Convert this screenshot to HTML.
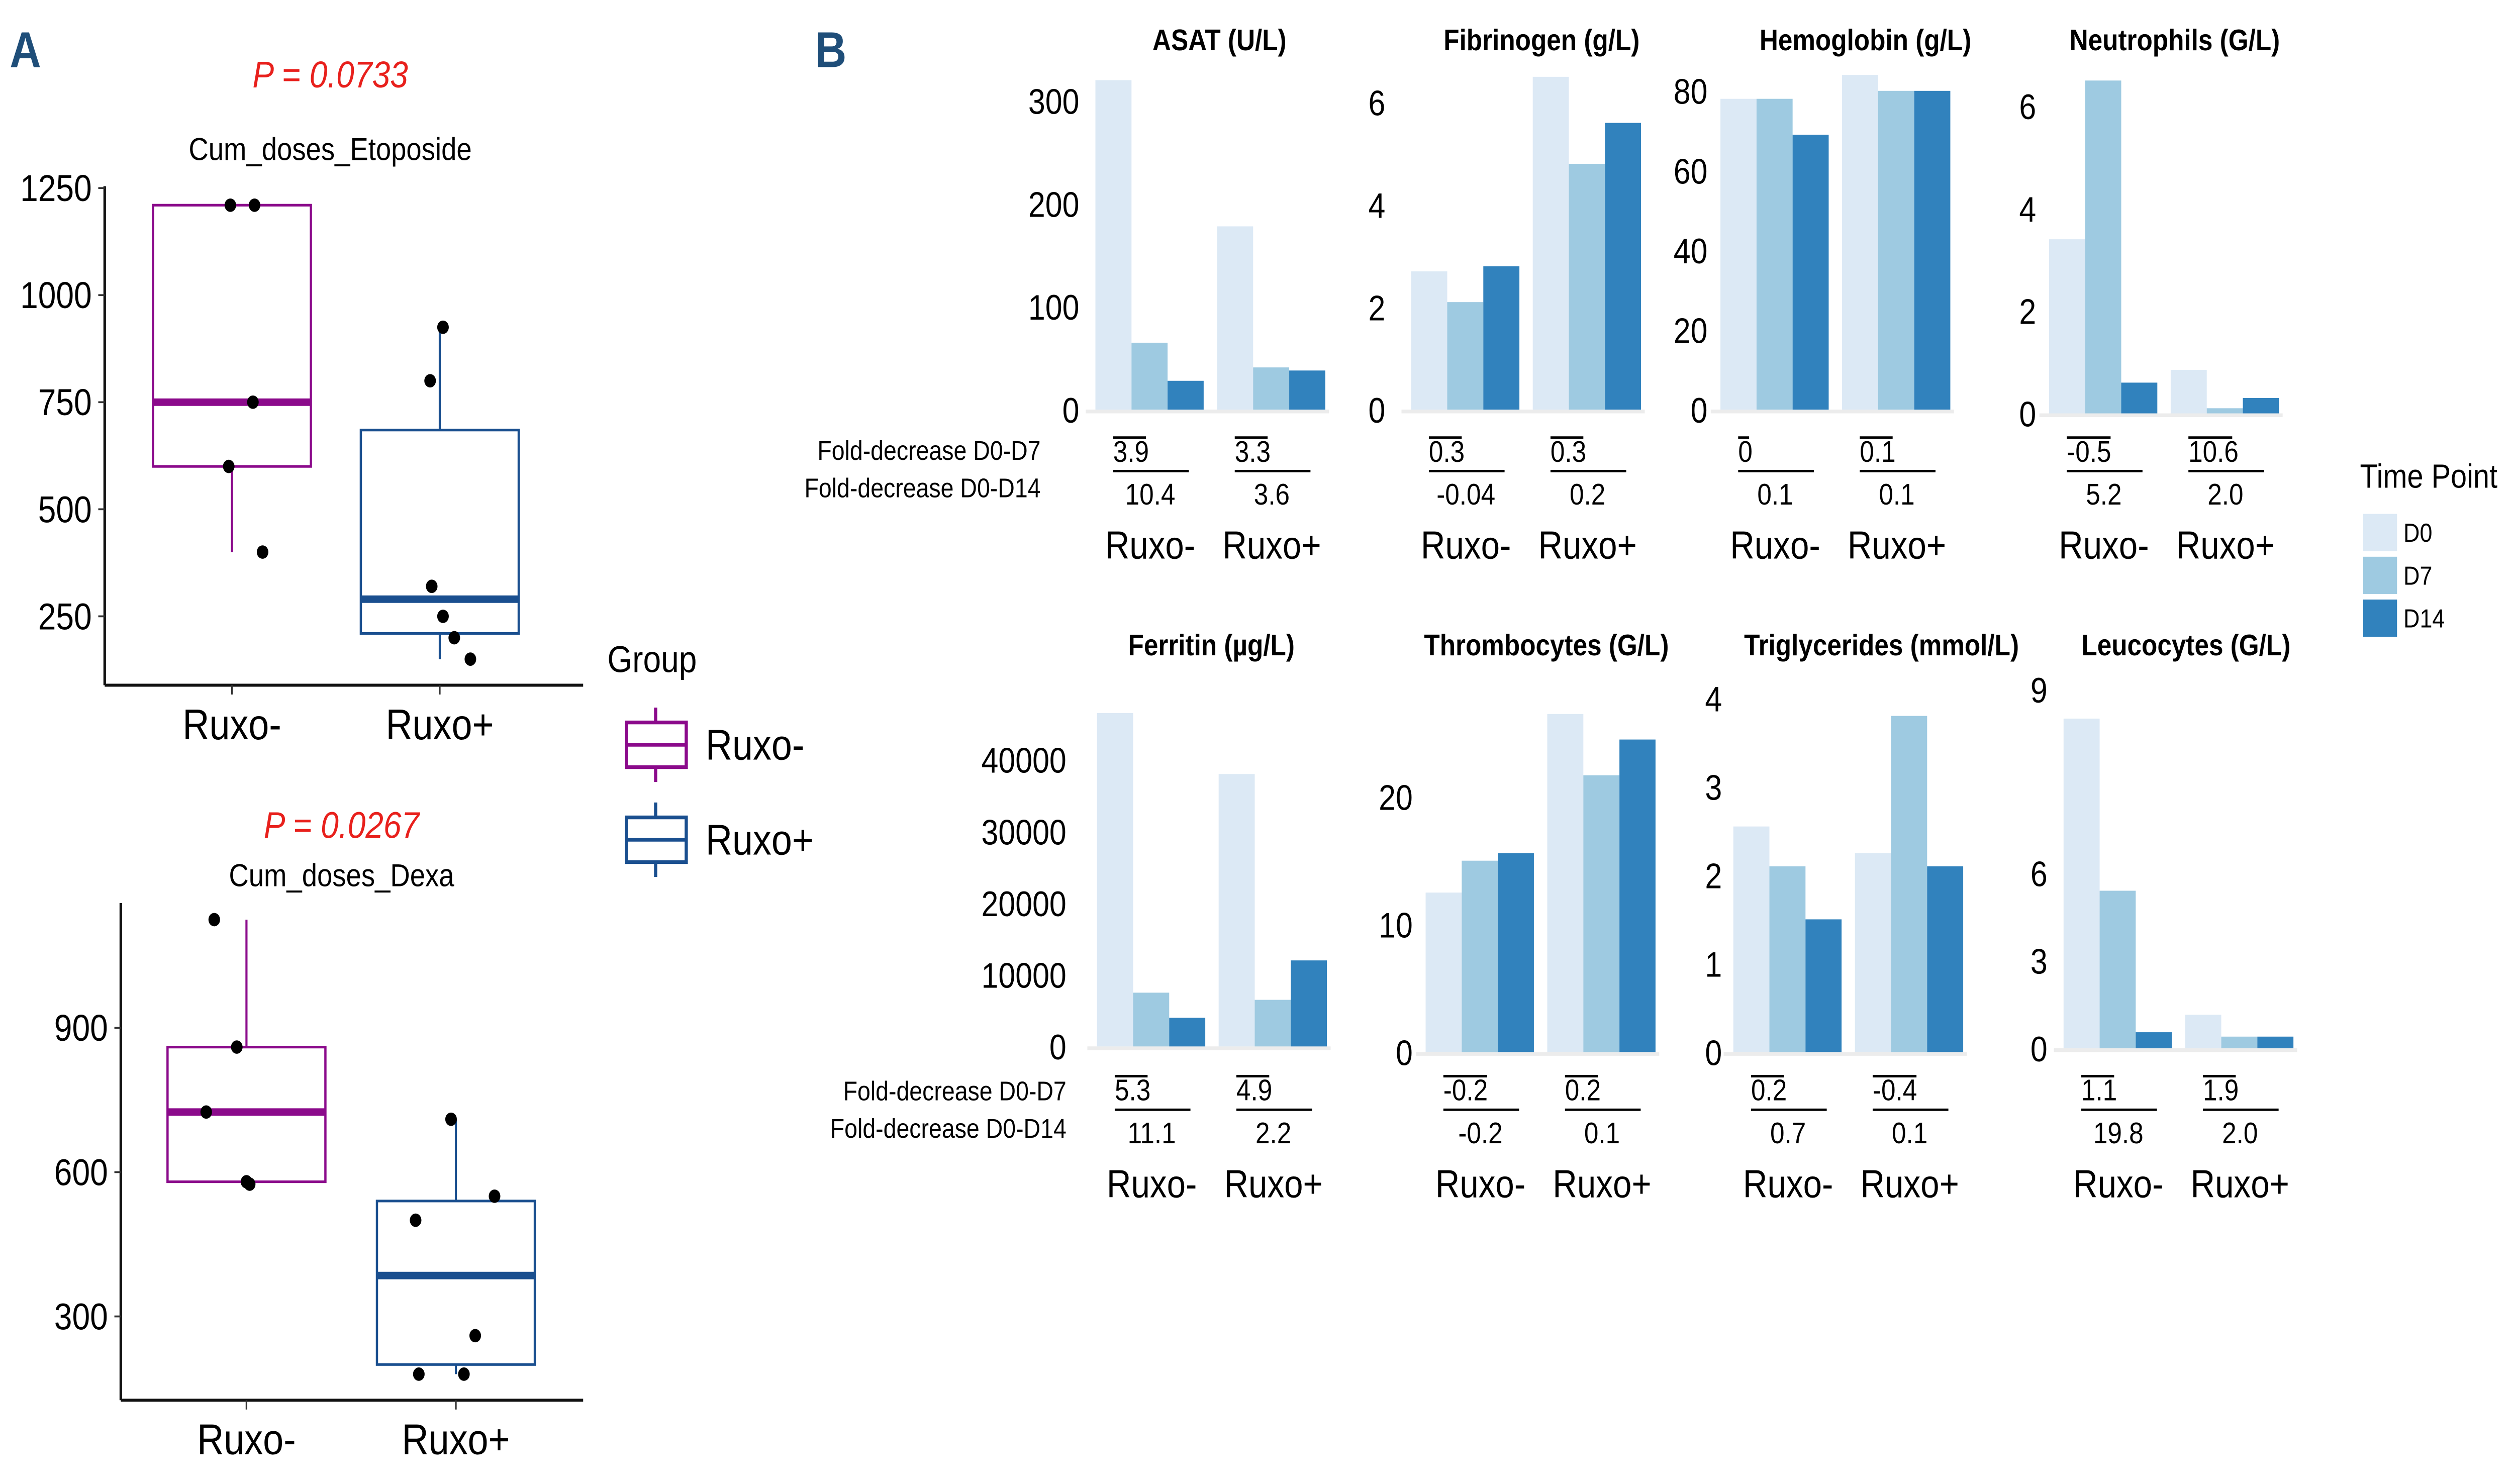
<!DOCTYPE html>
<html><head><meta charset="utf-8">
<style>
html,body{margin:0;padding:0;background:#fff;width:100%;height:100%;overflow:hidden;}
svg#fig{display:block;position:fixed;left:0;top:0;width:100vw;height:100vh;}
text{font-family:"Liberation Sans Narrow","Liberation Sans",sans-serif;}
</style></head>
<body>
<svg id="fig" xmlns="http://www.w3.org/2000/svg" viewBox="0 0 1560 797" preserveAspectRatio="none">
<rect width="1560" height="797" fill="#fff"/>
<text x="6" y="36" font-size="27" font-weight="bold" fill="#1f4e79" style="font-family:'Liberation Sans',sans-serif">A</text>
<text x="506" y="36" font-size="27" font-weight="bold" fill="#1f4e79" style="font-family:'Liberation Sans',sans-serif">B</text>
<g id="gA"></g>
<g id="gB"></g>
</svg>
<script>
// ---------- Panel A data ----------
const groupsA = ["Ruxo-", "Ruxo+"];
const etoTicks = [250, 500, 750, 1000, 1250];
const etoStats = [[400, 600, 750, 1210, 1210], [150, 210, 290, 685, 925]]; // min,q1,med,q3,max
const etoPointsMinus = [1210, 1210, 750, 600, 400];
const etoPointsPlus = [925, 800, 320, 250, 200, 150];
const dexTicks = [300, 600, 900];
const dexStats = [[580, 580, 725, 860, 1125], [180, 200, 385, 540, 710]];
const dexPointsMinus = [1125, 860, 725, 580, 575];
const dexPointsPlus = [710, 500, 550, 260, 180, 180];

// ---------- Panel B data ----------
const timePoints = ["D0", "D7", "D14"];
const asatValues = [[320, 65, 28], [178, 41, 38]];
const asatTicks = [0, 100, 200, 300];
const asatFold = [["3.9", "10.4"], ["3.3", "3.6"]];
const fibValues = [[2.7, 2.1, 2.8], [6.5, 4.8, 5.6]];
const fibTicks = [0, 2, 4, 6];
const fibFold = [["0.3", "-0.04"], ["0.3", "0.2"]];
const hemValues = [[78, 78, 69], [84, 80, 80]];
const hemTicks = [0, 20, 40, 60, 80];
const hemFold = [["0", "0.1"], ["0.1", "0.1"]];
const neuValues = [[3.4, 6.5, 0.6], [0.85, 0.1, 0.3]];
const neuTicks = [0, 2, 4, 6];
const neuFold = [["-0.5", "5.2"], ["10.6", "2.0"]];
const ferValues = [[46500, 7500, 4000], [38000, 6500, 12000]];
const ferTicks = [0, 10000, 20000, 30000, 40000];
const ferFold = [["5.3", "11.1"], ["4.9", "2.2"]];
const thrValues = [[12.5, 15, 15.6], [26.5, 21.7, 24.5]];
const thrTicks = [0, 10, 20];
const thrFold = [["-0.2", "-0.2"], ["0.2", "0.1"]];
const triValues = [[2.55, 2.1, 1.5], [2.25, 3.8, 2.1]];
const triTicks = [0, 1, 2, 3, 4];
const triFold = [["0.2", "0.7"], ["-0.4", "0.1"]];
const leuValues = [[11.3, 5.4, 0.55], [1.15, 0.4, 0.4]];
const leuTicks = [0, 3, 6, 12.3];
const leuTickLabels = ["0", "3", "6", "9"];
const leuFold = [["1.1", "19.8"], ["1.9", "2.0"]];

const NS = "http://www.w3.org/2000/svg";
function mk(tag, attrs, parent, txt) {
  const e = document.createElementNS(NS, tag);
  for (const k in attrs) e.setAttribute(k, attrs[k]);
  if (txt !== undefined) e.textContent = txt;
  parent.appendChild(e);
  return e;
}
const gA = document.getElementById("gA");
const gB = document.getElementById("gB");
const PURPLE = "#8b0a8b", BLUE = "#1a4f8f";

function boxPanel(o) {
  const y = v => o.y0 - (v - o.v0) * o.k;
  let e;
  e = mk("text", {x: o.cx, y: o.pY, "font-size": 20, fill: "#e8201c", "font-style": "italic", "text-anchor": "middle", style: "font-family:'Liberation Sans',sans-serif"}, gA, o.p);
  
  
  e = mk("text", {x: o.cx, y: o.tY, "font-size": 17, "text-anchor": "middle", style: "font-family:'Liberation Sans',sans-serif"}, gA, o.title);
  
  
  e = mk("line", {x1: o.ax, y1: o.top, x2: o.ax, y2: o.bot, stroke: "#111", "stroke-width": 1.6}, gA);
  
  
  e = mk("line", {x1: o.ax, y1: o.bot, x2: o.right, y2: o.bot, stroke: "#111", "stroke-width": 1.6}, gA);
  
  
  o.ticks.forEach(t => {
    e = mk("line", {x1: o.ax - 4, y1: y(t), x2: o.ax, y2: y(t), stroke: "#333", "stroke-width": 1}, gA);
    
    
    e = mk("text", {x: o.ax - 8, y: y(t) + 7, "font-size": 20, "text-anchor": "end"}, gA, String(t));
    
    
  });
  o.stats.forEach((s, i) => {
    const c = o.centers[i], col = i ? BLUE : PURPLE, hw = 49;
    e = mk("line", {x1: c, y1: y(s[0]), x2: c, y2: y(s[1]), stroke: col, "stroke-width": 1.3}, gA);
    
    
    e = mk("line", {x1: c, y1: y(s[3]), x2: c, y2: y(s[4]), stroke: col, "stroke-width": 1.3}, gA);
    
    
    e = mk("rect", {x: c - hw, y: y(s[3]), width: 2 * hw, height: y(s[1]) - y(s[3]), fill: "#fff", stroke: col, "stroke-width": 1.4}, gA);
    
    
    e = mk("line", {x1: c - hw, y1: y(s[2]), x2: c + hw, y2: y(s[2]), stroke: col, "stroke-width": 4}, gA);
    
    
    e = mk("line", {x1: c, y1: o.bot, x2: c, y2: o.bot + 5, stroke: "#333", "stroke-width": 1}, gA);
    
    
    e = mk("text", {x: c, y: o.bot + 29, "font-size": 23, "text-anchor": "middle", style: "font-family:'Liberation Sans',sans-serif"}, gA, groupsA[i]);
    
    
  });
  [o.ptsM, o.ptsP].forEach((pts, i) => {
    pts.forEach((v, j) => {
      e = mk("circle", {cx: o.centers[i] + o.jit[i][j], cy: y(v), r: 3.6, fill: "#000"}, gA);
      
      
    });
  });
}
boxPanel({p: "P = 0.0733", pY: 47, title: "Cum_doses_Etoposide", tY: 86, cx: 205, ax: 65, top: 100, bot: 368, right: 362,
  y0: 331, v0: 250, k: 0.23, ticks: etoTicks, stats: etoStats, centers: [144, 273],
  ptsM: etoPointsMinus, ptsP: etoPointsPlus, jit: [[-1, 14, 13, -2, 19], [2, -6, -5, 2, 9, 19]]});
boxPanel({p: "P = 0.0267", pY: 450, title: "Cum_doses_Dexa", tY: 476, cx: 212, ax: 75, top: 485, bot: 752, right: 362,
  y0: 707, v0: 300, k: 0.2583, ticks: dexTicks, stats: dexStats, centers: [153, 283],
  ptsM: dexPointsMinus, ptsP: dexPointsPlus, jit: [[-20, -6, -25, 0, 2], [-3, -25, 24, 12, -23, 5]]});

// Group legend
(function(){
  let e = mk("text", {x: 377, y: 361, "font-size": 20, style: "font-family:'Liberation Sans',sans-serif"}, gA, "Group");
  
  
  groupsA.forEach((g, i) => {
    const col = i ? BLUE : PURPLE, yc = 400 + i * 51;
    e = mk("line", {x1: 407, y1: yc - 20, x2: 407, y2: yc + 20, stroke: col, "stroke-width": 2}, gA);
    
    
    e = mk("rect", {x: 389, y: yc - 12, width: 37, height: 24, fill: "#fff", stroke: col, "stroke-width": 2}, gA);
    
    
    e = mk("line", {x1: 389, y1: yc, x2: 426, y2: yc, stroke: col, "stroke-width": 2}, gA);
    
    
    e = mk("text", {x: 438, y: yc + 8, "font-size": 23, style: "font-family:'Liberation Sans',sans-serif"}, gA, g);
    
    
  });
})();

// ---------- Panel B ----------
const COLS = ["#dce9f5", "#9ecae1", "#3182bd"];
const BW = 22.4, STRIDE = 75.5;
function barChart(o) {
  const y = v => o.base - v * o.k;
  let e;
  e = mk("text", {x: o.titleX, y: o.titleY, "font-size": 16, "font-weight": "bold", "text-anchor": "middle", style: "font-family:'Liberation Sans',sans-serif"}, gB, o.title);
  
  
  e = mk("line", {x1: o.x0 - 6, y1: o.base + 1, x2: o.x0 + 145, y2: o.base + 1, stroke: "#ececec", "stroke-width": 2}, gB);
  
  
  o.ticks.forEach((t, i) => {
    e = mk("text", {x: o.x0 - o.lblOff, y: y(t) + 7, "font-size": 19, "text-anchor": "end"}, gB, o.tickLabels ? o.tickLabels[i] : String(t));
    
    
  });
  o.values.forEach((grp, gi) => {
    const gx = o.x0 + gi * STRIDE;
    grp.forEach((v, bi) => {
      e = mk("rect", {x: gx + bi * BW, y: y(v), width: BW, height: v * o.k, fill: COLS[bi]}, gB);
      
      
    });
    const L = o.L, f = o.fold[gi];
    const w1 = f[0].length * 6.8;
    e = mk("line", {x1: gx + 11, y1: L + 12, x2: gx + 11 + w1, y2: L + 12, stroke: "#000", "stroke-width": 1.3}, gB);
    
    
    e = mk("text", {x: gx + 11, y: L + 25, "font-size": 16}, gB, f[0]);
    
    
    e = mk("line", {x1: gx + 11, y1: L + 30, x2: gx + 58, y2: L + 30, stroke: "#000", "stroke-width": 1.3}, gB);
    
    
    e = mk("text", {x: gx + 34, y: L + 48, "font-size": 16, "text-anchor": "middle"}, gB, f[1]);
    
    
    e = mk("text", {x: gx + 34, y: L + 77, "font-size": 21, "text-anchor": "middle"}, gB, groupsA[gi]);
    
    
  });
}
barChart({title: "ASAT  (U/L)", titleX: 757, titleY: 27, x0: 680, base: 220, k: 0.553, ticks: asatTicks, values: asatValues, fold: asatFold, L: 223, lblOff: 10});
barChart({title: "Fibrinogen (g/L)", titleX: 957, titleY: 27, x0: 876, base: 220, k: 27.5, ticks: fibTicks, values: fibValues, fold: fibFold, L: 223, lblOff: 16});
barChart({title: "Hemoglobin (g/L)", titleX: 1158, titleY: 27, x0: 1068, base: 220, k: 2.14, ticks: hemTicks, values: hemValues, fold: hemFold, L: 223, lblOff: 8});
barChart({title: "Neutrophils (G/L)", titleX: 1350, titleY: 27, x0: 1272, base: 222, k: 27.5, ticks: neuTicks, values: neuValues, fold: neuFold, L: 223, lblOff: 8});
barChart({title: "Ferritin (µg/L)", titleX: 752, titleY: 352, x0: 681, base: 562, k: 0.00385, ticks: ferTicks, values: ferValues, fold: ferFold, L: 566, lblOff: 19});
barChart({title: "Thrombocytes (G/L)", titleX: 960, titleY: 352, x0: 885, base: 565, k: 6.85, ticks: thrTicks, values: thrValues, fold: thrFold, L: 566, lblOff: 8});
barChart({title: "Triglycerides (mmol/L)", titleX: 1168, titleY: 352, x0: 1076, base: 565, k: 47.5, ticks: triTicks, values: triValues, fold: triFold, L: 566, lblOff: 7});
barChart({title: "Leucocytes (G/L)", titleX: 1357, titleY: 352, x0: 1281, base: 563, k: 15.67, ticks: leuTicks, tickLabels: leuTickLabels, values: leuValues, fold: leuFold, L: 566, lblOff: 10});

// Fold-decrease row labels
[[242, 262], [586, 606]].forEach((ys, r) => {
  const xr = r ? 662 : 646;
  let e = mk("text", {x: xr, y: ys[0] + 5, "font-size": 14.5, "text-anchor": "end"}, gB, "Fold-decrease D0-D7");
  
  
  e = mk("text", {x: xr, y: ys[1] + 5, "font-size": 14.5, "text-anchor": "end"}, gB, "Fold-decrease D0-D14");
  
  
});

// Time point legend
(function(){
  let e = mk("text", {x: 1465, y: 262, "font-size": 18, style: "font-family:'Liberation Sans',sans-serif"}, gB, "Time Point");
  
  
  timePoints.forEach((t, i) => {
    const yy = 276 + i * 23;
    e = mk("rect", {x: 1467, y: yy, width: 21, height: 20, fill: COLS[i]}, gB);
    
    
    e = mk("text", {x: 1492, y: yy + 15, "font-size": 14, style: "font-family:'Liberation Sans',sans-serif"}, gB, t);
    
    
  });
})();
</script>
</body></html>
